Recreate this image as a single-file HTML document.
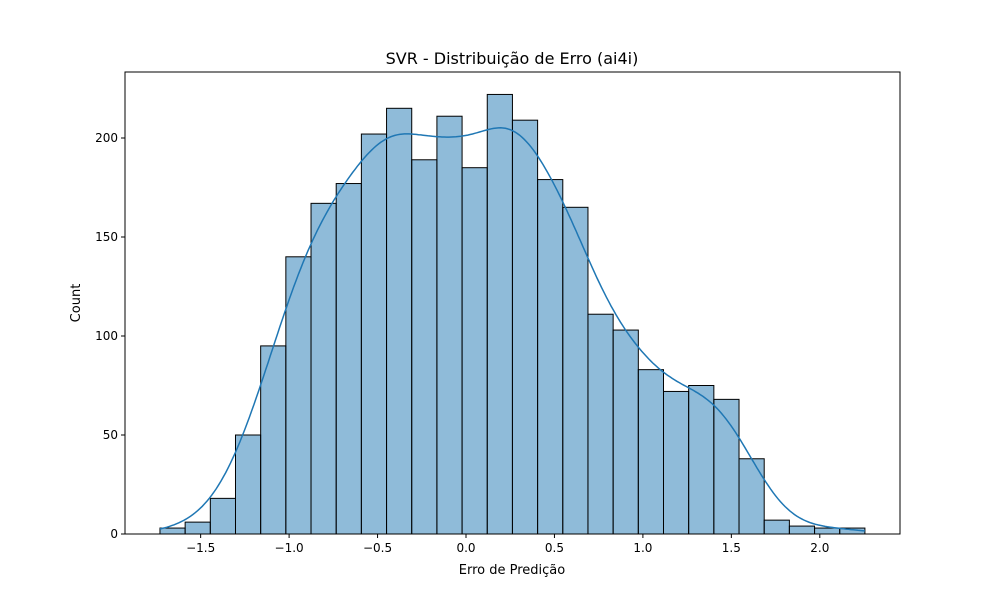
<!DOCTYPE html>
<html><head><meta charset="utf-8"><style>
body{margin:0;background:#fff;font-family:"Liberation Sans","DejaVu Sans",sans-serif}
</style></head><body>
<svg id="chart" width="1000" height="600" xmlns="http://www.w3.org/2000/svg" font-family="DejaVu Sans, Liberation Sans, sans-serif"></svg>
<script>
const counts=[3,6,18,50,95,140,167,177,202,215,189,211,185,222,209,179,165,111,103,83,72,75,68,38,7,4,3,3];
const binStart=-1.73, binEnd=2.255;
const xTicks=[-1.5,-1.0,-0.5,0.0,0.5,1.0,1.5,2.0];
const xTickLabels=["−1.5","−1.0","−0.5","0.0","0.5","1.0","1.5","2.0"];
const yTicks=[0,50,100,150,200];
const L=125,R=900,T=72,B=534;
const xs=v=>466+(v)*176.9;
const ys=v=>534-v*1.98;
const svg=document.getElementById('chart');
const NS="http://www.w3.org/2000/svg";
function mk(t,a,p){const e=document.createElementNS(NS,t);for(const k in a)e.setAttribute(k,a[k]);(p||svg).appendChild(e);return e;}
const bw=(binEnd-binStart)/counts.length;
const bars=mk('g',{});


counts.forEach((c,i)=>{
 const x0=xs(binStart+i*bw),x1=xs(binStart+(i+1)*bw);
 const r=mk('rect',{x:x0,y:ys(c),width:x1-x0,height:ys(0)-ys(c),fill:'rgba(31,119,180,0.5)',stroke:'#000','stroke-width':1},bars);
 
 
});
const h=0.16;let d='';
for(let k=0;k<=300;k++){
 const x=-1.73+k*(2.255+1.73)/300;let s=0;
 counts.forEach((c,i)=>{const m=binStart+(i+0.5)*bw;s+=c*Math.exp(-0.5*((x-m)/h)**2)/(h*Math.sqrt(2*Math.PI));});
 s*=bw;d+=(k?'L':'M')+xs(x).toFixed(1)+','+ys(s).toFixed(1);
}
const kde=mk('path',{d:d,fill:'none',stroke:'#1f77b4','stroke-width':1.5});


const frame=mk('rect',{x:L,y:T,width:R-L,height:B-T,fill:'none',stroke:'#000','stroke-width':1});


xTicks.forEach((v,i)=>{
 mk('line',{x1:xs(v),x2:xs(v),y1:B,y2:B+4,stroke:'#000'});
 const t=mk('text',{x:xs(v),y:B+18,'font-size':12,'text-anchor':'middle'});t.textContent=xTickLabels[i];
 
 
});
yTicks.forEach(v=>{
 mk('line',{x1:L-4,x2:L,y1:ys(v),y2:ys(v),stroke:'#000'});
 const t=mk('text',{x:L-7,y:ys(v)+4,'font-size':12,'text-anchor':'end'});t.textContent=v;
 
 
});
const xt=mk('text',{x:512,y:574,'font-size':13,'text-anchor':'middle'});xt.textContent='Erro de Predição';


const yt=mk('text',{x:80,y:303,'font-size':13,'text-anchor':'middle',transform:'rotate(-90 80 303)'});yt.textContent='Count';


const tt=mk('text',{x:512,y:64,'font-size':16,'text-anchor':'middle'});tt.textContent='SVR - Distribuição de Erro (ai4i)';


</script>
</body></html>
